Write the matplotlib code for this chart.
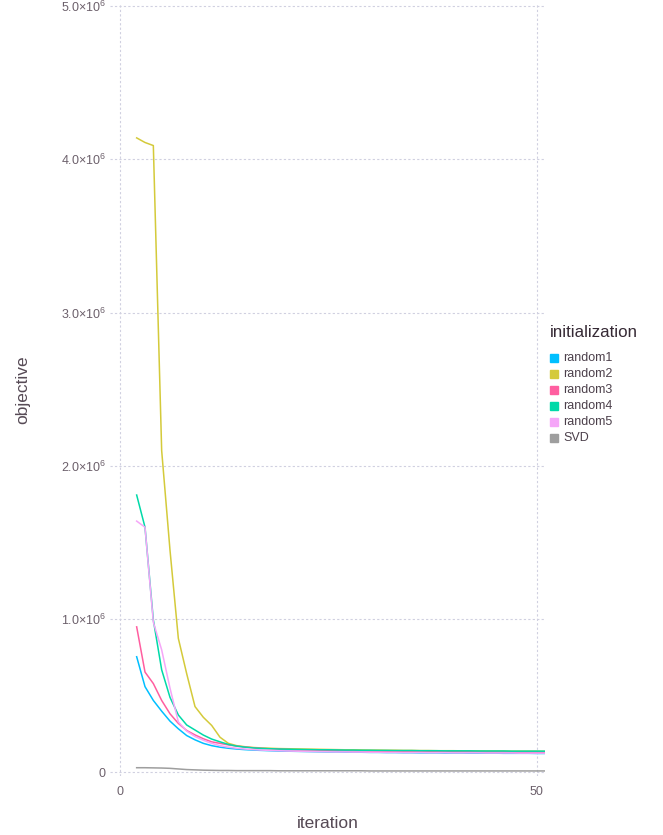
import matplotlib.pyplot as plt
from matplotlib.patches import Rectangle

plt.rcParams['font.family'] = ['Liberation Sans', 'DejaVu Sans']
plt.rcParams['mathtext.fontset'] = 'custom'
plt.rcParams['mathtext.rm'] = 'Liberation Sans'
plt.rcParams['mathtext.it'] = 'Liberation Sans'

# objective values in millions, iterations 2..51
iterations = list(range(2, 52))
random1 = [0.755, 0.56, 0.47, 0.40, 0.335, 0.285, 0.241, 0.213, 0.19, 0.175,
           0.165, 0.158, 0.153, 0.149, 0.146, 0.144, 0.142, 0.140, 0.139, 0.138,
           0.137, 0.136, 0.135, 0.134, 0.134, 0.133, 0.132, 0.132, 0.131, 0.131,
           0.130, 0.130, 0.129, 0.129, 0.128, 0.128, 0.128, 0.127, 0.127, 0.127,
           0.126, 0.126, 0.126, 0.126, 0.125, 0.125, 0.125, 0.125, 0.124, 0.124]
random2 = [4.14, 4.11, 4.09, 2.10, 1.45, 0.875, 0.645, 0.43, 0.36, 0.307,
           0.23, 0.19, 0.175, 0.168, 0.163, 0.160, 0.158, 0.156, 0.155, 0.154,
           0.153, 0.152, 0.151, 0.150, 0.149, 0.148, 0.148, 0.147, 0.146, 0.146,
           0.145, 0.145, 0.144, 0.144, 0.143, 0.143, 0.142, 0.142, 0.142, 0.141,
           0.141, 0.141, 0.140, 0.140, 0.140, 0.139, 0.139, 0.139, 0.139, 0.138]
random3 = [0.95, 0.655, 0.58, 0.47, 0.383, 0.32, 0.274, 0.245, 0.22, 0.20,
           0.19, 0.18, 0.172, 0.166, 0.161, 0.157, 0.154, 0.152, 0.150, 0.148,
           0.147, 0.146, 0.145, 0.144, 0.143, 0.142, 0.141, 0.141, 0.140, 0.139,
           0.139, 0.138, 0.138, 0.137, 0.137, 0.136, 0.136, 0.136, 0.135, 0.135,
           0.135, 0.134, 0.134, 0.134, 0.134, 0.133, 0.133, 0.133, 0.133, 0.132]
random4 = [1.81, 1.60, 0.995, 0.67, 0.49, 0.375, 0.31, 0.277, 0.244, 0.218,
           0.20, 0.183, 0.172, 0.165, 0.160, 0.157, 0.155, 0.153, 0.152, 0.151,
           0.150, 0.149, 0.148, 0.148, 0.147, 0.146, 0.146, 0.145, 0.145, 0.144,
           0.144, 0.143, 0.143, 0.143, 0.142, 0.142, 0.142, 0.141, 0.141, 0.141,
           0.141, 0.140, 0.140, 0.140, 0.140, 0.139, 0.139, 0.139, 0.139, 0.139]
random5 = [1.64, 1.60, 0.98, 0.80, 0.55, 0.33, 0.27, 0.235, 0.21, 0.19,
           0.175, 0.165, 0.158, 0.153, 0.149, 0.146, 0.144, 0.142, 0.140, 0.139,
           0.138, 0.137, 0.136, 0.135, 0.134, 0.134, 0.133, 0.133, 0.132, 0.132,
           0.131, 0.131, 0.130, 0.130, 0.130, 0.129, 0.129, 0.129, 0.128, 0.128,
           0.128, 0.128, 0.127, 0.127, 0.127, 0.127, 0.126, 0.126, 0.126, 0.126]
svd = [0.031, 0.031, 0.030, 0.029, 0.027, 0.023, 0.019, 0.017, 0.015, 0.014,
       0.013, 0.013, 0.012, 0.012, 0.012, 0.012, 0.012, 0.011, 0.011, 0.011,
       0.011, 0.011, 0.011, 0.011, 0.011, 0.011, 0.011, 0.011, 0.010, 0.010,
       0.010, 0.010, 0.010, 0.010, 0.010, 0.010, 0.010, 0.010, 0.010, 0.010,
       0.010, 0.010, 0.010, 0.010, 0.010, 0.010, 0.010, 0.010, 0.010, 0.010]

names = ['random1', 'random2', 'random3', 'random4', 'random5', 'SVD']
series = [random1, random2, random3, random4, random5, svd]
colors = ['#00BFFF', '#D4CA3A', '#FF5EA0', '#00D9A8', '#F5A6F8', '#9E9E9E']

yticks = [0, 1, 2, 3, 4, 5]
ytick_labels = ['0', r'$1.0{\times}10^{6}$', r'$2.0{\times}10^{6}$',
                r'$3.0{\times}10^{6}$', r'$4.0{\times}10^{6}$', r'$5.0{\times}10^{6}$']
xticks = [0, 50]

fig = plt.figure(figsize=(6.63, 8.35), dpi=100)
ax = fig.add_axes([110 / 663, 1 - 776 / 835, 435 / 663, 773 / 835])

for vals, c in zip(series, colors):
    ax.plot(iterations, vals, color=c, lw=1.1)

ax.set_xlim(-1.2, 51)
ax.set_ylim(-0.023, 5.02)
ax.set_xticks(xticks)
ax.set_yticks(yticks)
ax.set_yticklabels(ytick_labels)
for s in ax.spines.values():
    s.set_visible(False)
ax.tick_params(length=0, colors='#6c606b', labelsize=9, pad=3)
ax.tick_params(axis='x', pad=7)
ax.grid(True, color='#d0d0e0', ls=(0, (2, 2)), lw=0.8)
ax.set_axisbelow(True)

ax.set_xlabel('iteration', fontsize=12.5, color='#564a55', labelpad=13)
ax.set_ylabel('objective', fontsize=12.5, color='#564a55', labelpad=22)

# legend
fig.text(550 / 663, 1 - 332 / 835, 'initialization', fontsize=12.2,
         color='#362a35', va='center', ha='left')
for i, (n, c) in enumerate(zip(names, colors)):
    yc = 358 + 16 * i
    fig.patches.append(Rectangle((550 / 663, 1 - (yc + 4) / 835), 8 / 663, 8 / 835,
                                 transform=fig.transFigure, color=c))
    fig.text(563 / 663, 1 - yc / 835, n, fontsize=9, color='#4c404b',
             va='center', ha='left')

fig.savefig('out.png', dpi=100)
